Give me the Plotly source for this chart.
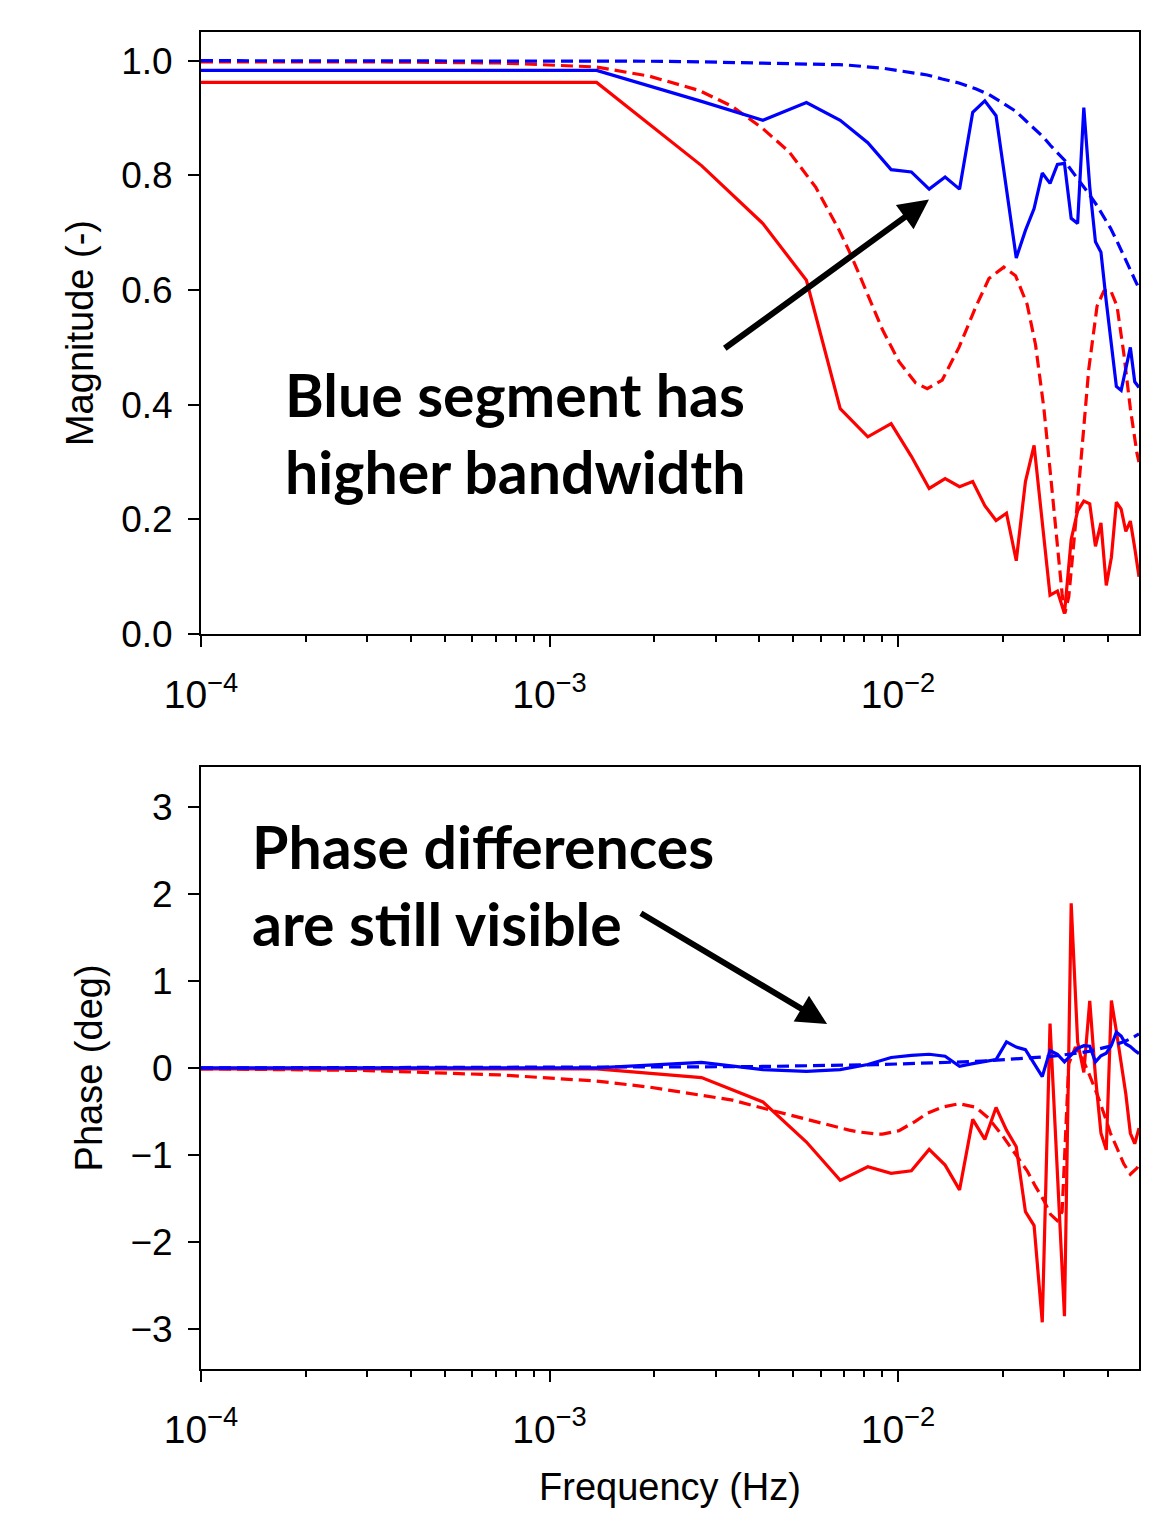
import plotly.graph_objects as go
import math

# measured (sampled) frequency grid, Hz
freq_meas = [0.0001, 0.001365, 0.00273, 0.004095, 0.00546, 0.006825, 0.00819, 0.009555,
             0.01092, 0.012285, 0.01365, 0.015015, 0.01638, 0.017745, 0.01911, 0.020475,
             0.02184, 0.023205, 0.02457, 0.025935, 0.0273, 0.028665, 0.03003, 0.031395,
             0.03276, 0.034125, 0.03549, 0.036855, 0.03822, 0.039585, 0.04095, 0.042315,
             0.04368, 0.045045, 0.04641, 0.047775, 0.04914]

mag_blue_meas = [0.983, 0.983, 0.929, 0.896, 0.927, 0.896, 0.857, 0.810, 0.806, 0.776,
                 0.797, 0.776, 0.910, 0.930, 0.904, 0.772, 0.656, 0.704, 0.742, 0.804,
                 0.786, 0.819, 0.821, 0.725, 0.716, 0.918, 0.780, 0.684, 0.666, 0.580,
                 0.500, 0.432, 0.425, 0.460, 0.500, 0.440, 0.430]

mag_red_meas = [0.962, 0.962, 0.817, 0.716, 0.617, 0.393, 0.344, 0.367, 0.310, 0.254,
                0.271, 0.257, 0.266, 0.224, 0.198, 0.211, 0.128, 0.266, 0.329, 0.190,
                0.068, 0.075, 0.036, 0.165, 0.215, 0.232, 0.227, 0.153, 0.194, 0.085,
                0.134, 0.230, 0.218, 0.179, 0.197, 0.150, 0.100]

ph_blue_meas = [0.0, 0.0, 0.065, -0.02, -0.04, -0.02, 0.04, 0.12, 0.145, 0.157,
                0.134, 0.02, 0.05, 0.07, 0.095, 0.30, 0.24, 0.21, 0.05, -0.10,
                0.20, 0.157, 0.07, 0.15, 0.225, 0.255, 0.25, 0.07, 0.14, 0.17,
                0.26, 0.41, 0.365, 0.275, 0.245, 0.20, 0.165]

ph_red_meas = [-0.01, -0.01, -0.11, -0.39, -0.85, -1.29, -1.134, -1.21, -1.18, -0.935,
               -1.115, -1.40, -0.59, -0.82, -0.454, -0.714, -0.905, -1.65, -1.81, -2.92,
               0.51, -1.20, -2.85, 1.89, 0.30, -0.05, 0.77, -0.10, -0.75, -0.94,
               0.775, 0.42, 0.05, -0.30, -0.75, -0.87, -0.69]

# model (smooth) curves
freq_model = [0.0001, 0.0003, 0.000719, 0.00136, 0.001934, 0.00269, 0.00335, 0.004085,
              0.00487, 0.00581, 0.00677, 0.00724, 0.00773, 0.00808, 0.00863, 0.00902,
              0.01007, 0.01124, 0.01213, 0.01339, 0.01496, 0.0167, 0.01823, 0.02012,
              0.02174, 0.02347, 0.0248, 0.0262, 0.02739, 0.0286, 0.02957, 0.0301,
              0.0309, 0.03229, 0.03373, 0.03526, 0.03725, 0.03894, 0.0407, 0.0425,
              0.04443, 0.04642, 0.04849, 0.04914]

mag_blue_model = [1.0, 1.0, 1.0, 0.9995, 0.999, 0.998, 0.997, 0.996,
                  0.995, 0.994, 0.993, 0.992, 0.991, 0.990, 0.988, 0.987,
                  0.983, 0.979, 0.975, 0.968, 0.961, 0.951, 0.941, 0.925,
                  0.912, 0.893, 0.879, 0.866, 0.852, 0.840, 0.831, 0.826,
                  0.815, 0.800, 0.785, 0.768, 0.747, 0.728, 0.708, 0.685,
                  0.661, 0.635, 0.610, 0.603]

mag_red_model = [0.998, 0.998, 0.996, 0.989, 0.973, 0.948, 0.920, 0.882,
                 0.841, 0.779, 0.705, 0.668, 0.628, 0.600, 0.558, 0.531,
                 0.475, 0.438, 0.428, 0.443, 0.500, 0.570, 0.620, 0.640,
                 0.625, 0.575, 0.505, 0.395, 0.278, 0.160, 0.070, 0.036,
                 0.065, 0.190, 0.330, 0.462, 0.572, 0.598, 0.600, 0.572,
                 0.490, 0.393, 0.315, 0.300]

ph_blue_model = [0.0, 0.002, 0.003, 0.006, 0.008, 0.011, 0.014, 0.017,
                 0.020, 0.024, 0.028, 0.030, 0.033, 0.035, 0.038, 0.040,
                 0.045, 0.050, 0.054, 0.060, 0.067, 0.075, 0.083, 0.093,
                 0.101, 0.110, 0.118, 0.126, 0.133, 0.140, 0.146, 0.150,
                 0.155, 0.165, 0.177, 0.190, 0.210, 0.230, 0.250, 0.275,
                 0.300, 0.335, 0.370, 0.390]

ph_red_model = [-0.01, -0.03, -0.08, -0.15, -0.22, -0.31, -0.37, -0.46,
                -0.54, -0.62, -0.69, -0.714, -0.735, -0.745, -0.758, -0.76,
                -0.72, -0.61, -0.52, -0.45, -0.41, -0.45, -0.58, -0.80,
                -0.99, -1.18, -1.36, -1.52, -1.68, -1.75, -1.65, -0.90,
                0.05, 0.24, 0.12, -0.06, -0.30, -0.52, -0.75, -0.92,
                -1.10, -1.22, -1.15, -1.10]

decade_vals = [1e-4, 1e-3, 1e-2]
decade_text = ["10<sup>−4</sup>", "10<sup>−3</sup>", "10<sup>−2</sup>"]
minor_vals = [k * d for d in [1e-4, 1e-3, 1e-2] for k in range(2, 10) if k * d <= 0.0492]
mag_ticks = [0, 0.2, 0.4, 0.6, 0.8, 1.0]
phase_ticks = [-3, -2, -1, 0, 1, 2, 3]

BLUE = "#0000ff"
RED = "#ff0000"
TICKFONT = dict(family="Liberation Sans, Arial, sans-serif", size=37, color="black")
XTICKFONT = dict(family="Liberation Sans, Arial, sans-serif", size=39, color="black")
TITLEFONT = dict(family="Liberation Sans, Arial, sans-serif", size=38, color="black")
DASH = "12px,6px"

fig = go.Figure()

def add(x, y, color, dash, xa, ya):
    fig.add_trace(go.Scatter(x=x, y=y, mode="lines", xaxis=xa, yaxis=ya,
                             line=dict(color=color, width=3.2, dash=dash),
                             showlegend=False, hoverinfo="skip"))

add(freq_meas, mag_red_meas, RED, "solid", "x", "y")
add(freq_model, mag_red_model, RED, DASH, "x", "y")
add(freq_meas, mag_blue_meas, BLUE, "solid", "x", "y")
add(freq_model, mag_blue_model, BLUE, DASH, "x", "y")

add(freq_meas, ph_red_meas, RED, "solid", "x2", "y2")
add(freq_model, ph_red_model, RED, DASH, "x2", "y2")
add(freq_meas, ph_blue_meas, BLUE, "solid", "x2", "y2")
add(freq_model, ph_blue_model, BLUE, DASH, "x2", "y2")

xmax = math.log10(freq_meas[-1])

xcommon = dict(type="log", range=[-4, xmax], showline=True, mirror=True,
               linecolor="black", linewidth=2, ticks="outside", ticklen=11,
               tickwidth=2, tickcolor="black", tickmode="array",
               tickvals=decade_vals, ticktext=decade_text, ticklabelstandoff=14,
               showgrid=False, zeroline=False, tickfont=XTICKFONT,
               minor=dict(tickmode="array", tickvals=minor_vals, ticks="outside",
                          ticklen=6, tickwidth=1.5, tickcolor="black", showgrid=False))

ycommon = dict(showline=True, mirror=True, linecolor="black", linewidth=2,
               ticks="outside", ticklen=11, tickwidth=2, tickcolor="black",
               ticklabelstandoff=8,
               showgrid=False, zeroline=False, tickfont=TICKFONT)

top_dom = [(1371 - 635) / 1339, 1.0]
bot_dom = [0.0, (1371 - 768) / 1339]

fig.update_layout(
    width=1159, height=1513,
    margin=dict(l=201, r=20, t=32, b=142),
    paper_bgcolor="white", plot_bgcolor="white",
    xaxis=dict(**xcommon, domain=[0, 1], anchor="y"),
    yaxis=dict(**ycommon, domain=top_dom, anchor="x", range=[0, 1.05],
               tickvals=mag_ticks, tickformat=".1f",
               title=dict(text="Magnitude (-)", font=TITLEFONT, standoff=16)),
    xaxis2=dict(**xcommon, domain=[0, 1], anchor="y2",
                title=dict(text="Frequency (Hz)", font=TITLEFONT, standoff=24)),
    yaxis2=dict(**ycommon, domain=bot_dom, anchor="x2",
                range=[-1.1 * math.pi, 1.1 * math.pi], tickvals=phase_ticks,
                title=dict(text="Phase (deg)", font=TITLEFONT, standoff=16)),
)

TXTFONT = dict(family="Lato, Open Sans, sans-serif", size=59, color="black")

def px2paper(px, py):
    return (px - 201) / 938, (1371 - py) / 1339

tx, ty = px2paper(283, 434)
fig.add_annotation(text="<b>Blue segment has<br>higher bandwidth</b>", xref="paper", yref="paper",
                   x=tx, y=ty, xanchor="left", yanchor="middle", align="left",
                   showarrow=False, font=TXTFONT)
tx, ty = px2paper(250, 886)
fig.add_annotation(text="<b>Phase differences<br>are still visible</b>", xref="paper", yref="paper",
                   x=tx, y=ty, xanchor="left", yanchor="middle", align="left",
                   showarrow=False, font=TXTFONT)

def logpx(px):
    return -4 + (px - 201) / 349

# arrow 1 (magnitude panel)
fig.add_annotation(x=logpx(930), y=(635 - 200) / 574, ax=logpx(724), ay=(635 - 350) / 574,
                   xref="x", yref="y", axref="x", ayref="y", text="", showarrow=True,
                   arrowhead=2, arrowsize=1.0, arrowwidth=6, arrowcolor="black", standoff=0)
# arrow 2 (phase panel)
fig.add_annotation(x=logpx(828), y=(1071 - 1027) / 87.33, ax=logpx(640), ay=(1071 - 915) / 87.33,
                   xref="x2", yref="y2", axref="x2", ayref="y2", text="", showarrow=True,
                   arrowhead=2, arrowsize=1.0, arrowwidth=6, arrowcolor="black", standoff=0)

fig.write_html("out.html")
